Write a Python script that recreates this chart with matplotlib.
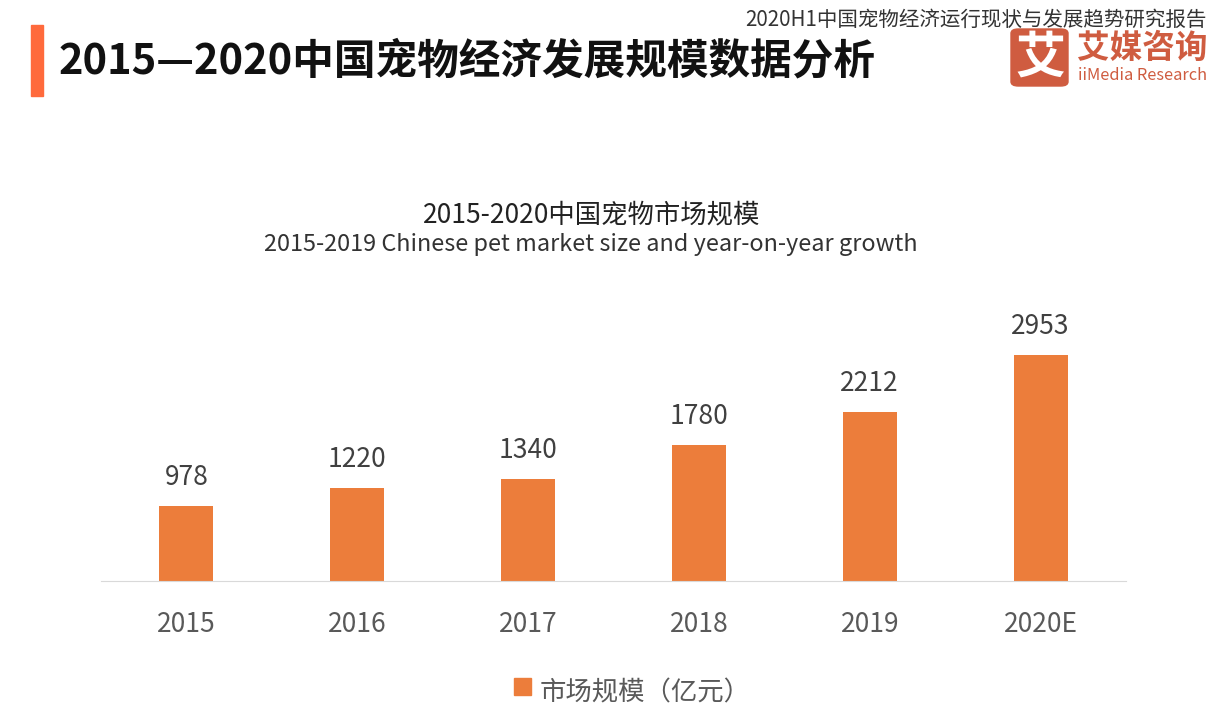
import matplotlib
matplotlib.use("Agg")
import matplotlib.pyplot as plt
from matplotlib.patches import Rectangle, FancyBboxPatch

W, H = 1228, 716
CJK = ['Noto Sans CJK SC', 'DejaVu Sans']

years = ["2015", "2016", "2017", "2018", "2019", "2020E"]
market_size = [978, 1220, 1340, 1780, 2212, 2953]

plt.rcParams['font.family'] = CJK
fig = plt.figure(figsize=(W / 100, H / 100), dpi=100, facecolor="white")

# plot area in pixels: x 101-1126, baseline at y=581
ax = fig.add_axes([101 / W, 1 - 581 / H, 1025 / W, 300 / H])
xpos = list(range(len(years)))
ax.bar(xpos, market_size, width=0.317, color="#EC7D3B")
ax.set_xlim(-0.5, 5.5)
ax.set_ylim(0, 300 * 2953 / 225.5)
for x, v in zip(xpos, market_size):
    ax.annotate(str(v), (x, v), xytext=(0, 15), textcoords="offset pixels",
                ha="center", va="bottom", fontsize=19, color="#404040")
ax.set_xticks(xpos)
ax.set_xticklabels(years, fontsize=19, color="#595959")
ax.tick_params(axis="x", length=0, pad=21.5)
ax.set_yticks([])
for s in ["top", "left", "right"]:
    ax.spines[s].set_visible(False)
ax.spines["bottom"].set_color("#D9D9D9")

# header
def px(x, y):
    return x / W, 1 - y / H

fig.add_artist(Rectangle((31 / W, 1 - 96 / H), 12 / W, 71 / H, color="#FF6A3C",
                         transform=fig.transFigure))
fig.text(*px(59, 61), "2015—2020中国宠物经济发展规模数据分析", fontsize=30, weight="bold",
         color="#111111", va="center", ha="left")
fig.text(*px(1207, 20), "2020H1中国宠物经济运行现状与发展趋势研究报告", fontsize=14.8,
         color="#333333", va="center", ha="right")

# logo
fig.add_artist(FancyBboxPatch((1011 / W, 1 - 86 / H), 57 / W, 57 / H,
                              boxstyle="round,pad=0,rounding_size=0.006",
                              color="#CF5C40", transform=fig.transFigure))
fig.text(*px(1040, 58), "艾", fontsize=36, weight="bold", color="white", va="center", ha="center")
fig.text(*px(1077, 48), "艾媒咨询", fontsize=23.5, weight="bold", color="#CF5C40", va="center", ha="left")
fig.text(*px(1078, 76), "iiMedia Research", fontsize=11.8, weight="medium", color="#CF5C40",
         va="center", ha="left")

# chart title
fig.text(*px(592, 215), "2015-2020中国宠物市场规模", fontsize=19, color="#222222", va="center", ha="center")
fig.text(*px(591, 245), "2015-2019 Chinese pet market size and year-on-year growth", fontsize=16.9,
         color="#333333", va="center", ha="center")

# legend
fig.add_artist(Rectangle((514 / W, 1 - 695 / H), 17 / W, 17 / H, color="#EC7D3B",
                         transform=fig.transFigure))
fig.text(*px(540, 693), "市场规模（亿元）", fontsize=19, color="#595959", va="center", ha="left")

fig.savefig("out.png", dpi=100)
